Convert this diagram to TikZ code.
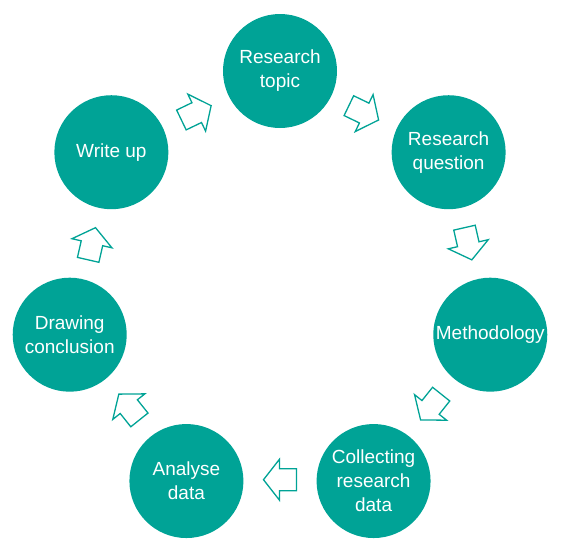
\documentclass[tikz,border=0pt]{standalone}
\usepackage{fontspec}
\setmainfont{Liberation Sans}
\definecolor{teal1}{RGB}{0,163,150}
\begin{document}
\begin{tikzpicture}[x=1pt,y=1pt,
  stage/.style={circle,fill=teal1,minimum size=114pt,inner sep=0pt,align=center,text=white,font=\fontsize{19}{24}\selectfont},
  blockarrow/.style={draw=teal1,line width=1.3pt,fill=white,line join=miter}]
\useasboundingbox (-280,-263.3) rectangle (282,286.7);
\def\R{215.7}
\def\r{193}
\node[stage] (topic) at (90:\R) {Research\\topic};
\node[stage] (question) at (90-51.4286:\R) {Research\\question};
\node[stage] (method) at (90-2*51.4286:\R) {Methodology};
\node[stage] (collect) at (90-3*51.4286:\R) {Collecting\\research\\data};
\node[stage] (analyse) at (90-4*51.4286:\R) {Analyse\\data};
\node[stage] (conclude) at (90-5*51.4286:\R) {Drawing\\conclusion};
\node[stage] (write) at (90-6*51.4286:\R) {Write up};
\foreach \i in {0,...,6}{
  \pgfmathsetmacro{\ang}{90+25.7143-\i*51.4286}
  \begin{scope}[shift={(\ang:\r)},rotate=\ang-90]
    \draw[blockarrow] (-16.5,-11) -- (0.5,-11) -- (0.5,-20.5) -- (16.5,0) -- (0.5,20.5) -- (0.5,11) -- (-16.5,11) -- cycle;
  \end{scope}
}
\end{tikzpicture}
\end{document}
